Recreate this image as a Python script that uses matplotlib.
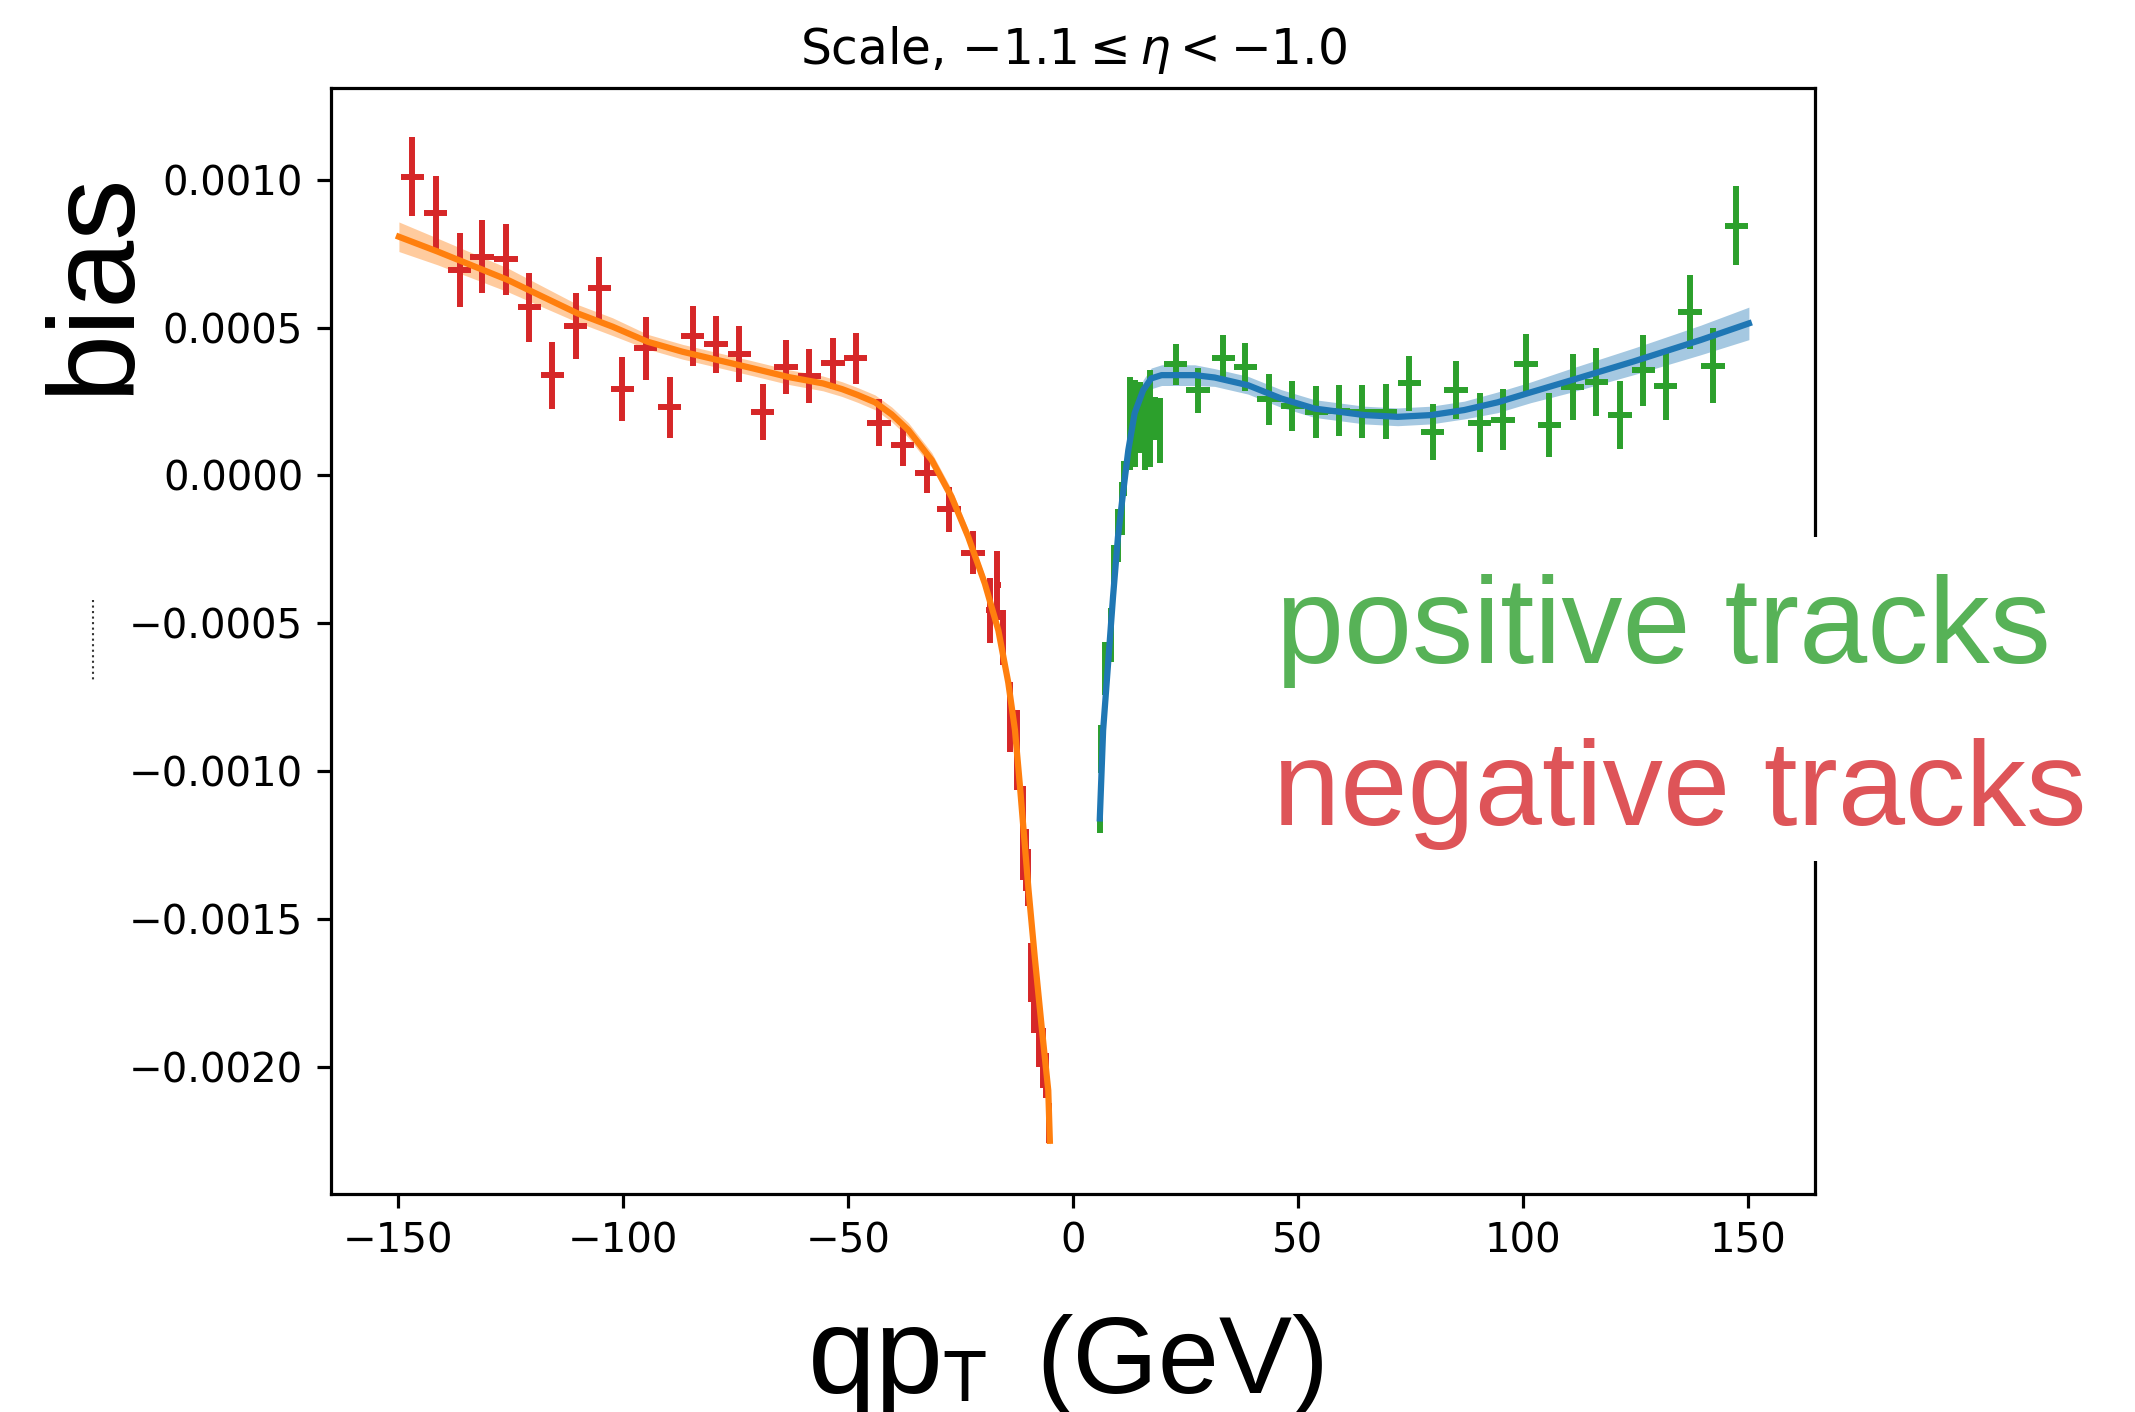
import numpy as np
import matplotlib
matplotlib.use("Agg")
from matplotlib import pyplot as plt
from matplotlib.ticker import FuncFormatter, MultipleLocator
from matplotlib.patches import Rectangle
from matplotlib.lines import Line2D

# negative tracks (red points)
neg_x = [-146.9, -141.7, -136.4, -131.4, -126.1, -120.9, -115.8, -110.6, -105.3, -100.2,
         -95.0, -89.7, -84.6, -79.4, -74.2, -69.0, -63.8, -58.6, -53.4, -48.3,
         -43.1, -37.9, -32.5, -27.6, -22.2, -18.5, -16.8, -15.5, -14.0, -12.5,
         -11.2, -10.5, -9.9, -9.3, -8.6, -7.6, -6.6, -5.9, -5.3]
neg_y = [0.00101, 0.000887, 0.000695, 0.00074, 0.000731, 0.000568, 0.000338, 0.000506, 0.000633, 0.000292,
         0.00043, 0.00023, 0.000471, 0.000443, 0.00041, 0.000215, 0.000367, 0.000336, 0.000379, 0.000396,
         0.000178, 0.000102, 0.0000085, -0.000115, -0.000262, -0.000456, -0.000372, -0.000547, -0.000817, -0.00093,
         -0.00121, -0.0013, -0.00136, -0.00168, -0.00178, -0.0019, -0.00197, -0.00203, -0.00219]
neg_yerr = [0.000133, 0.000124, 0.000125, 0.000122, 0.00012, 0.000118, 0.000113, 0.000112, 0.000107, 0.000107,
            0.000106, 0.000104, 0.000102, 0.0000975, 0.000094, 0.000094, 0.000091, 0.000091, 0.000086, 0.000086,
            0.000079, 0.00007, 0.000067, 0.000076, 0.000073, 0.00011, 0.000118, 0.000093, 0.000118, 0.000135,
            0.000158, 0.000104, 0.000096, 0.0001, 0.000107, 0.0001, 0.0001, 0.000076, 0.000068]
neg_xerr = [2.6] * 25 + [0.9, 0.8, 0.7, 0.7, 0.7, 0.6, 0.35, 0.3, 0.3, 0.35, 0.5, 0.5, 0.35, 0.3]

# positive tracks (green points)
pos_x = [6.0, 6.33, 7.07, 8.4, 9.15, 10.04, 10.8, 11.4,
         12.6, 13.7, 14.8, 15.9, 17.1, 18.2, 19.3,
         22.8, 27.8, 33.4, 38.3, 43.6, 48.8, 54.1, 59.1, 64.3, 69.5,
         74.8, 80.0, 85.2, 90.4, 95.6, 100.7, 105.9, 111.1, 116.4, 121.6,
         126.8, 131.8, 137.2, 142.3, 147.5]
pos_y = [-0.00117, -0.000925, -0.000654, -0.00054, -0.000304, -0.000202, -0.000112, -0.0000105,
         0.000176, 0.000176, 0.000196, 0.000162, 0.000193, 0.000193, 0.000153,
         0.000376, 0.000288, 0.000396, 0.000367, 0.000257, 0.000234, 0.000215, 0.000218, 0.000215, 0.000215,
         0.000311, 0.000147, 0.000288, 0.000178, 0.000189, 0.000376, 0.00017, 0.0003, 0.000317, 0.000204,
         0.000356, 0.000302, 0.000551, 0.000371, 0.000844]
pos_yerr = [0.00004, 0.00008, 0.00009, 0.00009, 0.00007, 0.00009, 0.00009, 0.00006,
            0.000158, 0.000147, 0.000121, 0.000144, 0.000164, 0.000073, 0.00011,
            0.00007, 0.000076, 0.000079, 0.00008, 0.000085, 0.000085, 0.000087, 0.000086, 0.00009, 0.000093,
            0.000093, 0.000096, 0.000098, 0.0001, 0.000102, 0.000103, 0.000107, 0.000112, 0.000115, 0.000116,
            0.00012, 0.000115, 0.000125, 0.000126, 0.000133]
pos_xerr = [0.3] * 8 + [0.5] * 7 + [2.6] * 25

# fitted curves
fit_neg_x = [-149.9, -141.3, -125.7, -117.9, -110.2, -102.4, -94.6, -86.8, -79.0, -71.2,
             -63.4, -55.6, -51.4, -47.9, -44.0, -40.3, -36.6, -31.4, -27.0, -23.3,
             -19.6, -16.6, -14.4, -12.9, -11.8, -9.9, -8.5, -7.0, -5.5, -5.15]
fit_neg_y = [0.000807, 0.000757, 0.000661, 0.000604, 0.000548, 0.000503, 0.000452, 0.000418, 0.00039, 0.000362,
             0.000333, 0.000311, 0.000292, 0.000272, 0.000247, 0.000206, 0.000153, 0.0000515, -0.0000728, -0.000208,
             -0.000366, -0.000524, -0.0007, -0.000862, -0.00105, -0.0014, -0.00163, -0.00186, -0.00208, -0.00225]
fit_neg_band = [0.00005, 0.000045, 0.00004, 0.000035, 0.00003, 0.00003, 0.000025, 0.000025, 0.000025, 0.000025,
                0.000025, 0.000025, 0.000025, 0.000025, 0.000025, 0.000025, 0.000025, 0.000025, 0.000025, 0.000025,
                0.000025, 0.000025, 0.000025, 0.000025, 0.000025, 0.000025, 0.000025, 0.000025, 0.000025, 0.000025]

fit_pos_x = [5.96, 6.7, 7.8, 8.9, 10.0, 11.2, 12.3, 13.7, 15.6, 17.4,
             19.7, 27.1, 31.5, 38.9, 46.3, 53.7, 64.8, 72.2, 79.6, 87.0,
             94.4, 101.8, 110.0, 124.8, 139.6, 150.3]
fit_pos_y = [-0.00116, -0.000862, -0.000637, -0.000411, -0.000208, -0.00005, 0.0000853, 0.00021, 0.000288, 0.000328,
             0.000339, 0.000339, 0.000331, 0.000305, 0.00026, 0.000226, 0.000204, 0.000198, 0.000204, 0.000221,
             0.000247, 0.000281, 0.000318, 0.000386, 0.000458, 0.000514]
fit_pos_band = [0.00003, 0.00003, 0.00003, 0.00003, 0.00003, 0.00003, 0.00003, 0.00003, 0.000035, 0.000035,
                0.000035, 0.000035, 0.00003, 0.00003, 0.00003, 0.00003, 0.00003, 0.00003, 0.00003, 0.00003,
                0.000035, 0.000035, 0.00004, 0.000045, 0.00005, 0.000055]

W, H = 2135, 1412
fig = plt.figure(figsize=(W / 100, H / 100), dpi=100)
ax = fig.add_axes([331 / W, 1 - 1194 / H, (1815 - 331) / W, (1194 - 88) / H])

ax.errorbar(neg_x, neg_y, yerr=neg_yerr, xerr=neg_xerr, fmt='none', ecolor='tab:red', elinewidth=4.3)
ax.errorbar(pos_x, pos_y, yerr=pos_yerr, xerr=pos_xerr, fmt='none', ecolor='tab:green', elinewidth=4.3)

fnx, fny, fnb = np.array(fit_neg_x), np.array(fit_neg_y), np.array(fit_neg_band)
ax.fill_between(fnx, fny - fnb, fny + fnb, color='tab:orange', alpha=0.4, lw=0)
ax.plot(fnx, fny, color='tab:orange', lw=4.5, solid_joinstyle='round')
fpx, fpy, fpb = np.array(fit_pos_x), np.array(fit_pos_y), np.array(fit_pos_band)
ax.fill_between(fpx, fpy - fpb, fpy + fpb, color='tab:blue', alpha=0.4, lw=0)
ax.plot(fpx, fpy, color='tab:blue', lw=4.5, solid_joinstyle='round')

ax.set_xlim(-165, 165)
ax.set_ylim(-0.00243, 0.00131)
ax.xaxis.set_major_locator(MultipleLocator(50))
ax.yaxis.set_major_locator(MultipleLocator(0.0005))


def yfmt(v, pos):
    s = "%.4f" % v
    if s == "-0.0000":
        s = "0.0000"
    return s.replace('-', '\u2212')


ax.yaxis.set_major_formatter(FuncFormatter(yfmt))
ax.tick_params(labelsize=29, length=10, width=2.3, pad=10)
for sp in ax.spines.values():
    sp.set_linewidth(2.3)
ax.set_title(r'Scale, $-1.1 \leq \eta < -1.0$', fontsize=35, pad=17)

# white box hiding part of the frame, with the overlay labels
fig.patches.append(Rectangle((1262 / W, 1 - 861 / H), (W - 1262) / W, (861 - 537) / H,
                             transform=fig.transFigure, facecolor='white', edgecolor='none', zorder=5))
fig.text(1276 / W, 1 - 663 / H, 'positive tracks', fontsize=88, family='Liberation Sans',
         color='#57b257', va='baseline', ha='left', zorder=6)
fig.text(1273 / W, 1 - 825 / H, 'negative tracks', fontsize=87, family='Liberation Sans',
         color='#de5458', va='baseline', ha='left', zorder=6)

# big axis labels
fig.text(127 / W, 1 - 283 / H, 'bias', fontsize=88, family='Liberation Sans', rotation=90,
         rotation_mode='anchor', ha='center', va='baseline')
fig.text(808 / W, 1 - 1393 / H, 'qp', fontsize=88, family='Liberation Sans', ha='left', va='baseline')
fig.text(942 / W, 1 - 1401 / H, 'T', fontsize=52, family='Liberation Sans', ha='left', va='baseline')
fig.text(1036 / W, 1 - 1393 / H, '(GeV)', fontsize=79, family='Liberation Sans', ha='left', va='baseline')

# leftover dotted mark of the old label
fig.lines.append(Line2D([93 / W, 93 / W], [1 - 600 / H, 1 - 682 / H], transform=fig.transFigure,
                        color='#333333', lw=1.5, ls=':'))

fig.savefig('out.png', dpi=100)
